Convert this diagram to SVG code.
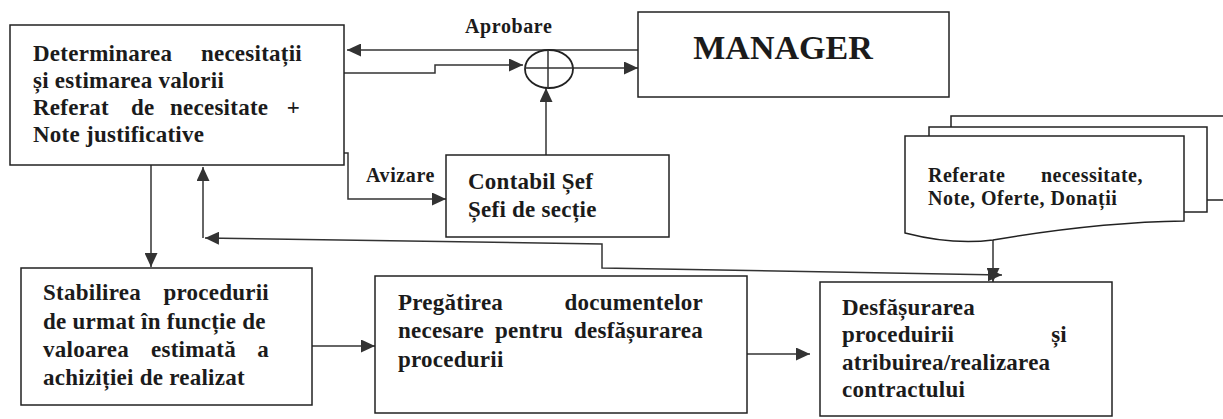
<svg xmlns="http://www.w3.org/2000/svg" width="1223" height="419" viewBox="0 0 1223 419">
<style>
  .box { fill: #ffffff; stroke: #222222; stroke-width: 1.5; }
  .t { font-family: "Liberation Serif", "Times New Roman", serif; font-weight: bold; font-size: 23px; letter-spacing: 0.25px; fill: #1b1b1b; }
  .lbl { font-family: "Liberation Serif", "Times New Roman", serif; font-weight: bold; font-size: 20px; letter-spacing: 0.6px; fill: #1b1b1b; }
  .doc { font-family: "Liberation Serif", "Times New Roman", serif; font-weight: bold; font-size: 20px; letter-spacing: 0.5px; fill: #1b1b1b; }
  .mgr { font-family: "Liberation Serif", "Times New Roman", serif; font-weight: bold; font-size: 34px; fill: #1b1b1b; }
  .ln { fill: none; stroke: #333333; stroke-width: 1.5; }
  .end { text-anchor: end; }
</style>
<defs>
  <marker id="arr" markerUnits="userSpaceOnUse" markerWidth="15" markerHeight="13" refX="14" refY="6.5" orient="auto-start-reverse">
    <path d="M0,0 L14,6.5 L0,13 Z" fill="#333333"/>
  </marker>
</defs>
<rect width="1223" height="419" fill="#ffffff"/>

<g id="connectors">
  <path id="c-aprobare" class="ln" d="M638,50 H347" marker-end="url(#arr)"/>
  <path id="c-need-sum" class="ln" d="M344,73 H435 V65 H523" marker-end="url(#arr)"/>
  <path id="c-sum-mgr" class="ln" d="M572,68 H638" marker-end="url(#arr)"/>
  <path id="c-contabil-sum" class="ln" d="M546,155 V88" marker-end="url(#arr)"/>
  <path id="c-avizare" class="ln" d="M342,153 H348 V199 H446" marker-end="url(#arr)"/>
  <path id="c-need-stab" class="ln" d="M151,165 V267" marker-end="url(#arr)"/>
  <path id="c-feedback" class="ln" d="M1002,275 L602,268 V244 L205,238" marker-start="url(#arr)" marker-end="url(#arr)"/>
  <path id="c-feedback-up" class="ln" d="M203,238 V167" marker-end="url(#arr)"/>
  <path id="c-doc-desf" class="ln" d="M993,203 V282" marker-end="url(#arr)"/>
  <path id="c-stab-preg" class="ln" d="M312,346 H375" marker-end="url(#arr)"/>
  <path id="c-preg-desf" class="ln" d="M747,354 H810" marker-end="url(#arr)"/>
  <text class="lbl" x="465" y="33">Aprobare</text>
  <text class="lbl" x="366" y="182">Avizare</text>
</g>

<g id="node-determinarea">
  <rect class="box" x="10" y="25" width="334" height="140"/>
  <text class="t" x="33" y="61">Determinarea</text>
  <text class="t end" x="302" y="61">necesitații</text>
  <text class="t" x="33" y="88">și estimarea valorii</text>
  <text class="t" y="115"><tspan x="33">Referat</tspan><tspan x="131">de</tspan><tspan x="170">necesitate</tspan></text>
  <text class="t end" x="300" y="115">+</text>
  <text class="t" x="33" y="142">Note justificative</text>
</g>

<g id="node-sum">
  <ellipse cx="549" cy="69" rx="24" ry="19" fill="#ffffff" stroke="#222222" stroke-width="1.8"/>
  <path class="ln" d="M525,68 H573 M548,50 V88"/>
</g>

<g id="node-manager">
  <rect class="box" x="638" y="12" width="311" height="85"/>
  <text class="mgr" x="783" y="59" text-anchor="middle">MANAGER</text>
</g>

<g id="node-contabil">
  <rect class="box" x="446" y="155" width="223" height="82"/>
  <text class="t" x="468" y="189">Contabil Șef</text>
  <text class="t" x="468" y="217">Șefi de secție</text>
</g>

<g id="node-documente">
  <rect class="box" x="951" y="116" width="290" height="84"/>
  <rect class="box" x="929" y="127" width="278" height="85"/>
  <path class="box" d="M905,136 H1184 V221 C1110,222 1040,232 993,240 C970,243 940,242 905,233 Z"/>
  <text class="doc" x="928" y="182">Referate</text>
  <text class="doc end" x="1143" y="182">necessitate,</text>
  <text class="doc" x="928" y="205">Note, Oferte, Donații</text>
</g>

<g id="node-stabilirea">
  <rect class="box" x="21" y="268" width="291" height="137"/>
  <text class="t" x="43" y="300">Stabilirea</text>
  <text class="t end" x="269" y="300">procedurii</text>
  <text class="t" x="43" y="329">de urmat în funcție de</text>
  <text class="t" y="357"><tspan x="43">valoarea</tspan><tspan x="151">estimată</tspan></text>
  <text class="t end" x="269" y="357">a</text>
  <text class="t" x="43" y="385">achiziției de realizat</text>
</g>

<g id="node-pregatirea">
  <rect class="box" x="375" y="276" width="372" height="137"/>
  <text class="t" x="398" y="310">Pregătirea</text>
  <text class="t end" x="703" y="310">documentelor</text>
  <text class="t" y="338"><tspan x="398">necesare</tspan><tspan x="495">pentru</tspan></text>
  <text class="t end" x="703" y="338">desfășurarea</text>
  <text class="t" x="398" y="367">procedurii</text>
</g>

<g id="node-desfasurarea">
  <rect class="box" x="820" y="282" width="292" height="134"/>
  <text class="t" x="842" y="315">Desfășurarea</text>
  <text class="t" x="842" y="342">proceduirii</text>
  <text class="t end" x="1067" y="342">și</text>
  <text class="t" x="842" y="370">atribuirea/realizarea</text>
  <text class="t" x="842" y="397">contractului</text>
</g>
</svg>
